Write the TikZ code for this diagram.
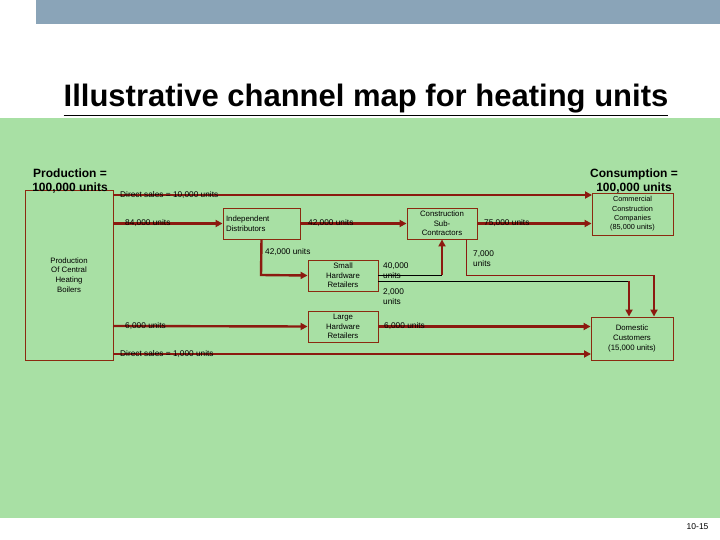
\documentclass[tikz,border=0pt]{standalone}
\usepackage{fontspec}
\setmainfont{Liberation Sans}
\usetikzlibrary{arrows.meta}
\definecolor{bg}{HTML}{A8E0A4}
\definecolor{bar}{HTML}{8AA4B8}
\definecolor{ln}{HTML}{8B1A10}
\definecolor{bx}{HTML}{8B2A10}
\begin{document}
\begin{tikzpicture}[x=1pt,y=-1pt,
  box/.style={draw=bx,line width=0.9pt,minimum width=0pt,inner sep=0pt,font=\fontsize{7.8}{9.6}\selectfont,align=center},
  flow/.style={draw=ln,line width=2.4pt,-{Triangle[length=7pt,width=7pt,fill=red!70!black]}},
  thin/.style={draw=black,line width=0.6pt},
  lab/.style={font=\fontsize{8.3}{10}\selectfont,anchor=west,inner sep=0pt,align=left},
  big/.style={font=\bfseries\fontsize{12}{13.5}\selectfont,inner sep=0pt,align=center}]
\useasboundingbox (0,0) rectangle (720,540);
\fill[white] (0,0) rectangle (720,540);
\fill[bar] (36,0) rectangle (720,24);
\fill[bg] (0,118) rectangle (720,518);
\node[font=\bfseries\fontsize{31}{34}\selectfont] (title) at (366,100) {\underline{Illustrative channel map for heating units}};
\node[font=\fontsize{8.5}{10}\selectfont,anchor=east] (pg) at (712,527) {10-15};
% boxes
\node[box,minimum width=88pt,minimum height=170pt] (P) at (69,275) {Production\\Of Central\\Heating\\Boilers};
\node[box,minimum width=77pt,minimum height=31pt,align=left,text width=71pt] (ID) at (261.5,223.5) {Independent\\Distributors};
\node[box,minimum width=70pt,minimum height=31pt] (SH) at (343,275.5) {Small\\Hardware\\Retailers};
\node[box,minimum width=70pt,minimum height=31pt] (LH) at (343,326.5) {Large\\Hardware\\Retailers};
\node[box,minimum width=70pt,minimum height=31pt] (CS) at (442,223.5) {Construction\\Sub-\\Contractors};
\node[box,minimum width=81pt,minimum height=42pt,font=\fontsize{7.3}{9.4}\selectfont] (CC) at (632.5,214) {Commercial\\Construction\\Companies\\(85,000 units)};
\node[box,minimum width=82pt,minimum height=43pt] (DC) at (632,338.5) {Domestic\\Customers\\(15,000 units)};
\node[big] (prod) at (70,181) {Production =\\100,000 units};
\node[big] (cons) at (634,181) {Consumption =\\100,000 units};
% flows
\coordinate (a1) at (113,195); \coordinate (a2) at (592,195);
\draw[flow] (a1) -- (a2);
\draw[flow] (P.east|-ID) -- (ID.west);
\draw[flow] (ID.east) -- (CS.west);
\draw[flow] (CS.east) -- (CC.west|-CS);
\coordinate (b1) at (261,275);
\draw[flow] (ID.south) -- (b1) -- (SH.west);
\coordinate (c1) at (442,275);
\draw[thin] (SH.east|-c1) -- (c1);
\draw[flow] (c1) -- (CS.south);
\coordinate (d1) at (629,281);
\draw[thin] (SH.east|-d1) -- (d1);
\draw[flow] (d1) -- (d1|-DC.north);
\coordinate (e0) at (466,239); \coordinate (e1) at (466,275); \coordinate (e2) at (654,275);
\draw[draw=ln,line width=1pt] (e0) -- (e1) -- (e2);
\draw[flow] (e2) -- (e2|-DC.north);
\coordinate (f1) at (113,326);
\draw[flow] (f1) -- (LH.west);
\draw[flow] (LH.east) -- (DC.west|-LH);
\coordinate (g1) at (113,354); \coordinate (g2) at (591,354);
\draw[flow] (g1) -- (g2);
% labels
\node[lab] (l1) at (120,195) {Direct sales = 10,000 units};
\node[lab] (l2) at (125,223) {84,000 units};
\node[lab] (l3) at (308,223) {42,000 units};
\node[lab] (l4) at (265,252) {42,000 units};
\node[lab] (l5) at (484,223) {75,000 units};
\node[lab] (l6) at (473,259) {7,000\\units};
\node[lab] (l7) at (383,271) {40,000\\units};
\node[lab] (l8) at (383,297) {2,000\\units};
\node[lab] (l9) at (125,326) {6,000 units};
\node[lab] (l10) at (384,326) {6,000 units};
\node[lab] (l11) at (120,354) {Direct sales = 1,000 units};
\end{tikzpicture}
\end{document}
